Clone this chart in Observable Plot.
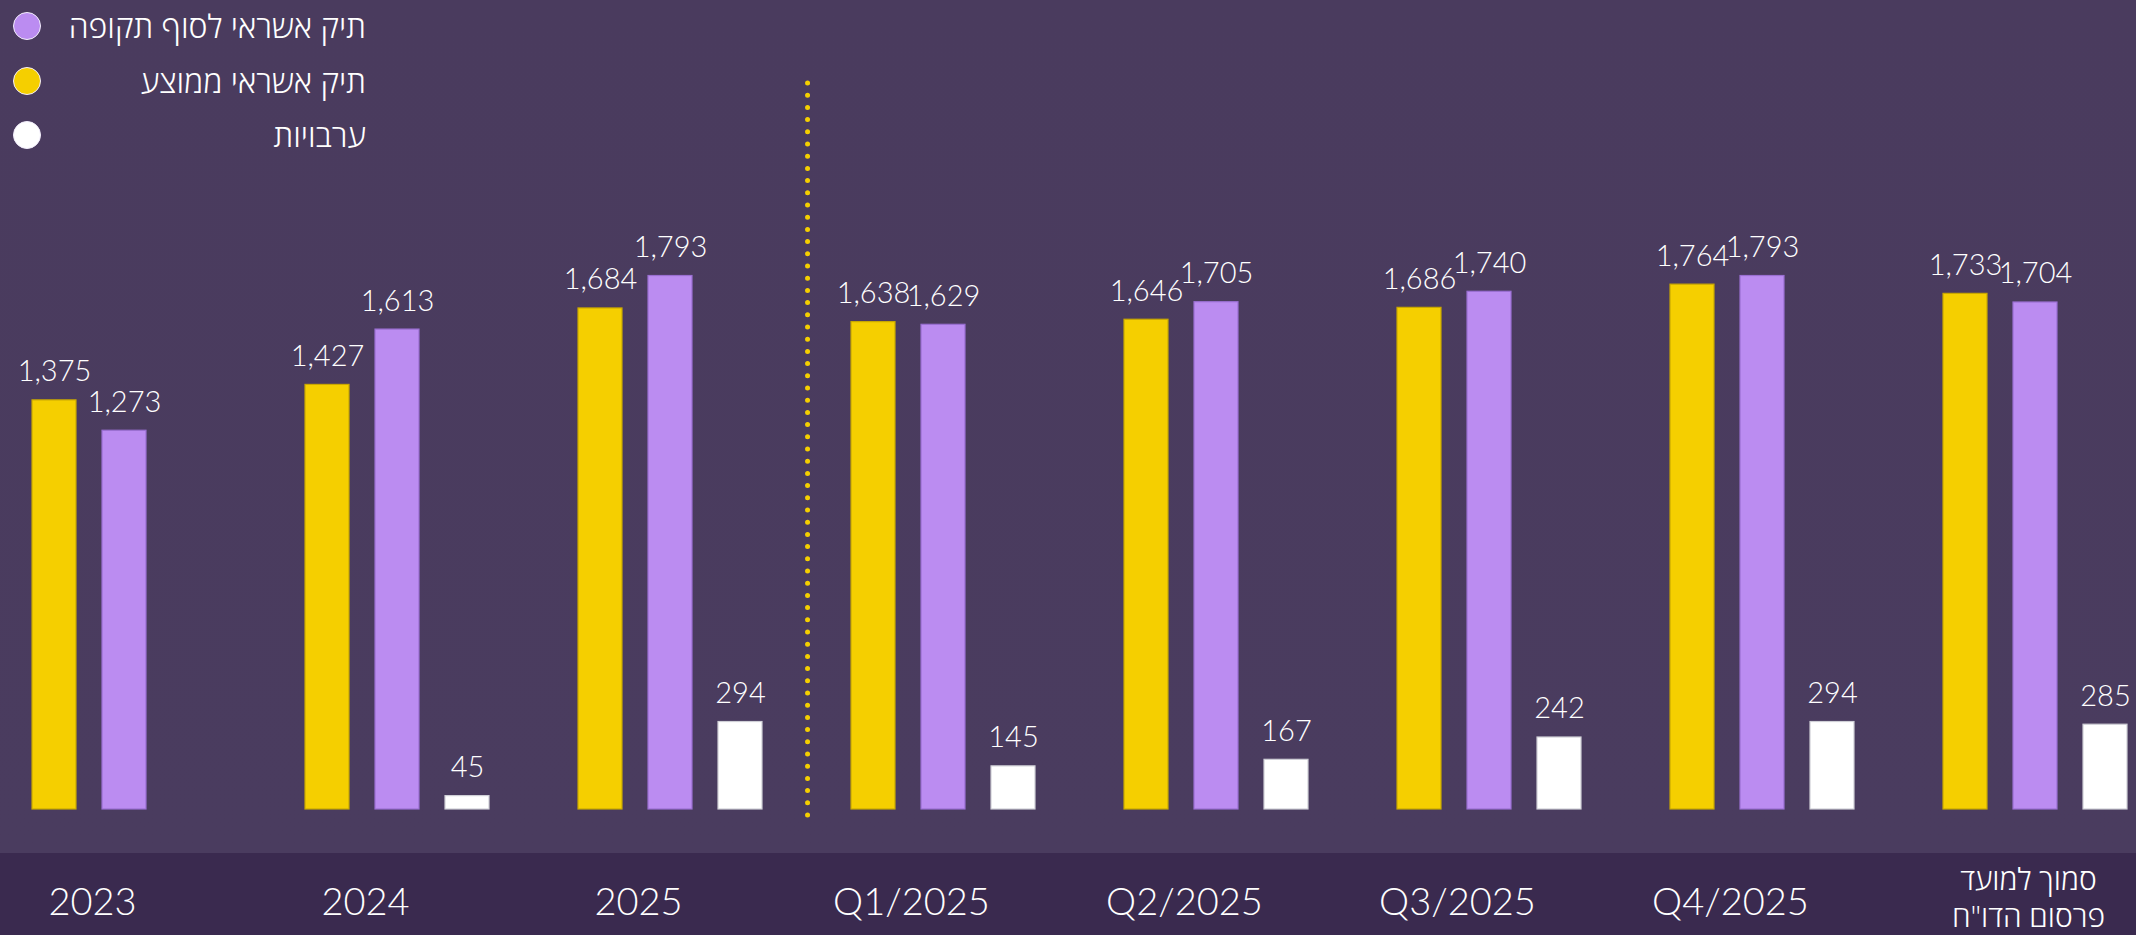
<!DOCTYPE html>
<html>
<head>
<meta charset="utf-8">
<script src="https://cdn.jsdelivr.net/npm/d3@7"></script>
<script src="https://cdn.jsdelivr.net/npm/@observablehq/plot@0.6"></script>
<style>
  html, body { margin: 0; padding: 0; }
  body {
    width: 2136px; height: 935px; overflow: hidden; position: relative;
    background: linear-gradient(to bottom, #4a3b5e 0px, #4a3c5f 853px, #3a2a4f 853px, #3a2a4f 935px);
  }
  #legend { position: absolute; left: 0; top: 0; width: 380px; font-family: "Open Sans", "Liberation Sans", sans-serif; }
  .row { position: absolute; left: 0; width: 366px; height: 44px; }
  .dot { position: absolute; left: 13px; top: 8px; width: 28px; height: 28px; border-radius: 50%; border: 1.5px solid #f3eefc; box-sizing: border-box; }
  .lab { position: absolute; right: 0; top: 0; line-height: 44px; font-size: 32px; font-weight: 300; color: #ffffff; direction: rtl; text-align: right; white-space: nowrap; }
  #chart { position: absolute; left: 0; top: 0; }
</style>
</head>
<body>
<div id="chart"></div>
<div id="legend"></div>
<script>
// ---- data ----
const categories = ["2023", "2024", "2025", "Q1/2025", "Q2/2025", "Q3/2025", "Q4/2025", "סמוך למועד\nפרסום הדו\"ח"];
const seriesNames = ["תיק אשראי ממוצע", "תיק אשראי לסוף תקופה", "ערבויות"];
const avgPortfolio = [1375, 1427, 1684, 1638, 1646, 1686, 1764, 1733];
const endPortfolio = [1273, 1613, 1793, 1629, 1705, 1740, 1793, 1704];
const guarantees   = [null, 45, 294, 145, 167, 242, 294, 285];
const seriesValues = [avgPortfolio, endPortfolio, guarantees];
const fillColors   = ["#f5cf00", "#bb8cf1", "#ffffff"];
const edgeColors   = ["#c9a800", "#9a6fd2", "#cfcfd6"];
const legendOrder  = [1, 0, 2];
const dividerBefore = "Q1/2025";

// ---- layout ----
const W = 2136, H = 935;
const mL = 27, mR = 5, mT = 83, mB = 126;
const fxPad = 0.319, xPad = 0.373;
const fxStep = (W - mL - mR) / (categories.length - fxPad);
const fxBand = fxStep * (1 - fxPad);
const xStep = fxBand / (seriesNames.length - xPad);
const barW = xStep * (1 - xPad);
const dividerDx = -(barW / 2 + (fxStep - fxBand) / 2);

const table = [];
seriesNames.forEach((s, si) => {
  categories.forEach((c, ci) => {
    const v = seriesValues[si][ci];
    if (v != null) table.push({cat: c, series: s, value: v, si});
  });
});

const numFont = "Lato, Roboto, sans-serif";
const hebFont = "'Open Sans', 'Liberation Sans', sans-serif";
const isHebrew = s => /[\u0590-\u05FF]/.test(s);

const marks = [];
seriesNames.forEach((s, si) => {
  marks.push(Plot.barY(table.filter(d => d.si === si), {
    fx: "cat", x: "series", y: "value",
    fill: fillColors[si], stroke: edgeColors[si], strokeWidth: 1.2
  }));
});
marks.push(Plot.text(table, {
  fx: "cat", x: "series", y: "value",
  text: d => d3.format(",")(d.value),
  lineAnchor: "bottom", dy: -19,
  fill: "#ffffff", fontSize: 29, fontWeight: 300, fontFamily: numFont
}));
marks.push(Plot.ruleX([{cat: dividerBefore, series: seriesNames[0]}], {
  fx: "cat", x: "series", dx: dividerDx, insetBottom: -8,
  stroke: "#f5cf00", strokeWidth: 5, strokeLinecap: "round", strokeDasharray: "0,12.2"
}));
marks.push(Plot.text(categories.filter(c => !isHebrew(c)), {
  fx: d => d, text: d => d, frameAnchor: "bottom",
  dy: 93, dx: -32, lineAnchor: "middle",
  fill: "#ffffff", fontSize: 38, fontWeight: 300, fontFamily: numFont
}));
marks.push(Plot.text(categories.filter(c => isHebrew(c)), {
  fx: d => d, text: d => d, frameAnchor: "bottom",
  dy: 87, dx: -7, lineAnchor: "middle", lineHeight: 1.25,
  fill: "#ffffff", fontSize: 30, fontWeight: 300, fontFamily: hebFont
}));

const chart = Plot.plot({
  width: W, height: H,
  marginLeft: mL, marginRight: mR, marginTop: mT, marginBottom: mB,
  style: {background: "transparent", color: "#ffffff", overflow: "visible"},
  fx: {domain: categories, paddingInner: fxPad, paddingOuter: 0, axis: null, label: null},
  x: {domain: seriesNames, paddingInner: xPad, paddingOuter: 0, axis: null},
  y: {domain: [0, 2440], axis: null},
  marks
});
document.getElementById("chart").appendChild(chart);

// ---- legend ----
const legend = document.getElementById("legend");
legendOrder.forEach((si, i) => {
  const row = document.createElement("div");
  row.className = "row";
  row.style.top = (4 + i * 54.5) + "px";
  const dot = document.createElement("div");
  dot.className = "dot";
  dot.style.background = fillColors[si];
  const lab = document.createElement("div");
  lab.className = "lab";
  lab.textContent = seriesNames[si];
  row.appendChild(dot);
  row.appendChild(lab);
  legend.appendChild(row);
});
</script>
</body>
</html>
